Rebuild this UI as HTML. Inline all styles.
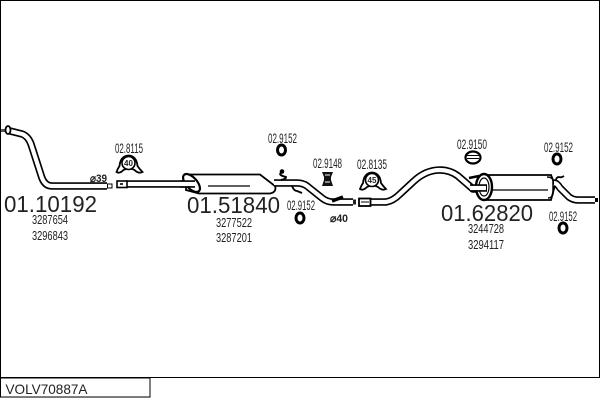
<!DOCTYPE html>
<html><head><meta charset="utf-8"><style>
html,body{margin:0;padding:0;background:#fff}
svg{display:block}
text{font-family:"Liberation Sans",sans-serif;fill:#222}
.n{font-size:13px}
.m{font-size:14px}
.b{font-size:23px}
.o{fill:none;stroke:#000;stroke-linecap:butt;stroke-linejoin:round}
.w{fill:none;stroke:#fff;stroke-linecap:butt;stroke-linejoin:round}
</style></head><body>
<svg width="600" height="400" viewBox="0 0 600 400" xmlns="http://www.w3.org/2000/svg">
<rect width="600" height="400" fill="#fff"/>
<path d="M.5 0V397M0 .5H600M599.500 0V378M0 377.500H600" fill="none" stroke="#000"/>
<rect x=".5" y="378" width="149.500" height="19" fill="#fff" stroke="#000"/>
<path d="M0 397.500H150" stroke="#777"/>
<text x="5.500" y="394" style="font-size:14px" textLength="82" lengthAdjust="spacingAndGlyphs">VOLV70887A</text>

<!-- pipe 1 -->
<path class="o" stroke-width="7.500" d="M10 131L22 134Q28 136 31 144L41 175Q44 186 52 186H107"/>
<path class="w" stroke-width="4.200" d="M10 131L22 134Q28 136 31 144L41 175Q44 186 52 186H107"/>
<rect x="1" y="129" width="6" height="3" fill="#555"/>
<ellipse cx="8" cy="130" rx="2.500" ry="4" fill="#fff" stroke="#000" stroke-width="1.800"/>
<rect x="107.500" y="184" width="4.500" height="4" fill="#fff" stroke="#000"/>
<!-- pipe 2 -->
<path class="o" stroke-width="7.500" d="M126 184H188"/>
<path class="w" stroke-width="4.200" d="M126 184H188"/>
<rect x="117" y="181" width="10" height="6.500" fill="#fff" stroke="#000" stroke-width="1.600"/>
<rect x="120" y="183" width="3" height="2" fill="#333"/>
<!-- muffler 1 -->
<path d="M186 174.500H260L275 186Q277 192 270 193.500H199L186 190Z" fill="#fff" stroke="#000" stroke-width="1.800"/>
<ellipse cx="191.500" cy="183" rx="5.500" ry="11" transform="rotate(-42 191.500 183)" fill="#fff" stroke="#000" stroke-width="2.200"/>
<path d="M208 186H250" stroke="#000" stroke-width="1.200"/>
<path class="o" stroke-width="7.500" d="M180 184H195"/>
<path class="w" stroke-width="4.200" d="M180 184H196"/>
<!-- outlet -->
<path class="o" stroke-width="7.500" d="M274 183H297Q303 183 307 186L322 198Q327 202 333 202H353"/>
<path class="w" stroke-width="4.200" d="M274 183H297Q303 183 307 186L322 198Q327 202 333 202H353"/>
<rect x="353" y="199.500" width="3" height="5" fill="#222"/>
<path d="M281 173Q278 175 286 177Q286 179 281 180" class="o" stroke-width="2"/>
<circle cx="282" cy="171.500" r="2.300" fill="#000"/>
<path d="M292 186Q294 191 297 191L302 193" class="o" stroke-width="1.800"/>
<path d="M332 201L343 197" stroke="#000" stroke-width="3.500"/>
<!-- pipe 3 -->
<path class="o" stroke-width="7.500" d="M370 202H386Q393 201 400 194L414 181Q426 170 440 170Q450 170 458 176L473 189H483"/>
<path class="w" stroke-width="4.200" d="M370 202H386Q393 201 400 194L414 181Q426 170 440 170Q450 170 458 176L473 189H483"/>
<rect x="359" y="198.500" width="11.500" height="7.500" fill="#fff" stroke="#000" stroke-width="1.800"/>
<path d="M361 202H369" stroke="#000"/>
<!-- muffler 3 -->
<path d="M487 175H551L555 185L551 200H487Z" fill="#fff" stroke="#000" stroke-width="1.800"/>
<path d="M490 190H548" stroke="#000" stroke-width="1.200"/>
<path d="M547 177Q552 177 553 180V194Q552 198 548 198" fill="none" stroke="#000" stroke-width="1.500"/>
<ellipse cx="484" cy="187" rx="8" ry="13" fill="#fff" stroke="#000" stroke-width="2.400"/>
<ellipse cx="484" cy="187" rx="5" ry="9" fill="#fff" stroke="#000" stroke-width="1.200"/>
<path class="o" stroke-width="7.500" d="M470 188H487"/>
<path class="w" stroke-width="4.200" d="M470 188H486"/>
<path d="M469 178L479 176" stroke="#000" stroke-width="2.500"/>
<path d="M554 183Q557 183 560 188L569 197Q573 200 578 200H595" class="o" stroke-width="7.500"/>
<path d="M554 183Q557 183 560 188L569 197Q573 200 578 200H595" class="w" stroke-width="4.200"/>
<path d="M595 198H598V202H595Z" fill="#000"/>
<path d="M556 181Q556 177 559 177Q561 178 564 176" class="o" stroke-width="1.800"/>

<!-- clamps -->
<g transform="translate(128.500 163)">
<path d="M-12 9Q-11 6 -9 3Q-8 -7 0 -7.500Q8 -7 9 3Q11 6 14 9Q10 11 6 7Q1 4 -5 7Q-9 11 -12 9Z" fill="#fff" stroke="#000" stroke-width="1.800"/>
<circle cx="0" cy="0" r="6.500" fill="#fff" stroke="#000" stroke-width="1.600"/>
</g>
<text x="128.500" y="166" text-anchor="middle" style="font-size:8px" font-weight="bold">40</text>
<g transform="translate(372 180)">
<path d="M-12 9Q-11 6 -9 3Q-8 -7 0 -7.500Q8 -7 9 3Q11 6 14 9Q10 11 6 7Q1 4 -5 7Q-9 11 -12 9Z" fill="#fff" stroke="#000" stroke-width="1.800"/>
<circle cx="0" cy="0" r="6.500" fill="#fff" stroke="#000" stroke-width="1.600"/>
</g>
<text x="372" y="183" text-anchor="middle" style="font-size:8px" font-weight="bold">45</text>
<!-- rings -->
<ellipse cx="281.500" cy="150" rx="4" ry="5" fill="#fff" stroke="#000" stroke-width="3"/>
<ellipse cx="300" cy="218" rx="4" ry="5" fill="#fff" stroke="#000" stroke-width="3"/>
<ellipse cx="557" cy="159" rx="4" ry="5" fill="#fff" stroke="#000" stroke-width="3"/>
<ellipse cx="563" cy="228" rx="4" ry="5" fill="#fff" stroke="#000" stroke-width="3"/>
<!-- 2.9148 -->
<path d="M322 172H333L331 177V180L333 186H322L324 180V177Z" fill="#111"/>
<path d="M325 175H330M325 182H330" stroke="#fff"/>
<!-- 2.9150 -->
<ellipse cx="473" cy="157.500" rx="7.500" ry="6" fill="#fff" stroke="#000" stroke-width="2.200"/>
<path d="M467 155.500H479M467 158.500H479" stroke="#000"/>

<!-- labels -->
<text class="m" x="115" y="153" textLength="28" lengthAdjust="spacingAndGlyphs">02.8115</text>
<text class="m" x="268" y="143" textLength="29" lengthAdjust="spacingAndGlyphs">02.9152</text>
<text class="m" x="287" y="210" textLength="28" lengthAdjust="spacingAndGlyphs">02.9152</text>
<text class="m" x="313" y="168" textLength="29" lengthAdjust="spacingAndGlyphs">02.9148</text>
<text class="m" x="357" y="169" textLength="30" lengthAdjust="spacingAndGlyphs">02.8135</text>
<text class="m" x="457" y="149" textLength="30" lengthAdjust="spacingAndGlyphs">02.9150</text>
<text class="m" x="544" y="152" textLength="29" lengthAdjust="spacingAndGlyphs">02.9152</text>
<text class="m" x="549" y="221" textLength="28" lengthAdjust="spacingAndGlyphs">02.9152</text>
<text x="90" y="182" style="font-size:11px;font-weight:bold" textLength="17" lengthAdjust="spacingAndGlyphs">⌀39</text>
<text x="330" y="222" style="font-size:11px;font-weight:bold" textLength="18" lengthAdjust="spacingAndGlyphs">⌀40</text>
<text class="b" x="4" y="212" textLength="93" lengthAdjust="spacingAndGlyphs">01.10192</text>
<text class="b" x="187" y="213" textLength="93" lengthAdjust="spacingAndGlyphs">01.51840</text>
<text class="b" x="441" y="221" textLength="92" lengthAdjust="spacingAndGlyphs">01.62820</text>
<text class="n" x="32" y="224" textLength="36" lengthAdjust="spacingAndGlyphs">3287654</text>
<text class="n" x="32" y="240" textLength="36" lengthAdjust="spacingAndGlyphs">3296843</text>
<text class="n" x="216" y="227" textLength="36" lengthAdjust="spacingAndGlyphs">3277522</text>
<text class="n" x="216" y="242" textLength="36" lengthAdjust="spacingAndGlyphs">3287201</text>
<text class="n" x="468" y="233" textLength="36" lengthAdjust="spacingAndGlyphs">3244728</text>
<text class="n" x="468" y="249" textLength="36" lengthAdjust="spacingAndGlyphs">3294117</text>
</svg>
</body></html>
